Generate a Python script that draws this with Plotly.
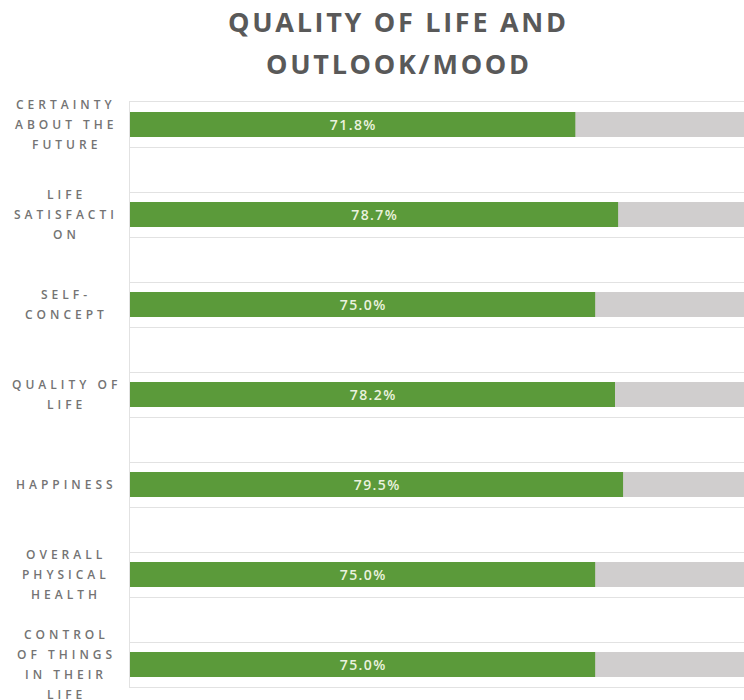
import plotly.graph_objects as go

# data, top to bottom
categories = [
    ["CERTAINTY", "ABOUT THE", "FUTURE"],
    ["LIFE", "SATISFACTI", "ON"],
    ["SELF-", "CONCEPT"],
    ["QUALITY OF", "LIFE"],
    ["HAPPINESS"],
    ["OVERALL", "PHYSICAL", "HEALTH"],
    ["CONTROL", "OF THINGS", "IN THEIR", "LIFE"],
]
values = [71.8, 78.7, 75.0, 78.2, 79.5, 75.0, 75.0]
totals = [100, 100, 100, 100, 100, 100, 100]
title_lines = ["QUALITY OF LIFE AND", "OUTLOOK/MOOD"]

GREEN = "#5B9A3A"
GREY = "#D0CECE"
LINE = "#E2E2E2"
FONT = "Open Sans"


def spaced(s, gap):
    # fake letter-spacing with narrow unicode spaces
    return gap.join(list(s))


pos = list(range(len(values)))

fig = go.Figure()
fig.add_trace(go.Bar(
    y=pos, x=totals, orientation="h", marker=dict(color=GREY, line=dict(width=0)),
    width=0.28, hoverinfo="skip", showlegend=False,
))
fig.add_trace(go.Bar(
    y=pos, x=values, orientation="h", marker=dict(color=GREEN, line=dict(width=0)),
    width=0.28, showlegend=False,
    text=[spaced(f"{v:.1f}%", "\u200a") for v in values],
    textposition="inside", insidetextanchor="middle", textangle=0,
    textfont=dict(family=FONT, size=14, color="#EAF2DE", weight=600),
))

annotations = []
for i, lines in enumerate(categories):
    n = len(lines)
    for j, ln in enumerate(lines):
        annotations.append(dict(
            xref="paper", yref="y", x=-0.107, y=i,
            text=spaced(ln, "\u2004"), showarrow=False,
            xanchor="center", yanchor="middle",
            yshift=-(j - (n - 1) / 2) * 20,
            font=dict(family=FONT, size=12, color="#737373", weight=600),
        ))

for k, t in enumerate(title_lines):
    annotations.append(dict(
        xref="paper", yref="paper", x=0.435, y=1.137 - k * 0.072,
        text=spaced(t, "\u200a"), showarrow=False,
        xanchor="center", yanchor="middle",
        font=dict(family=FONT, size=27, color="#595959", weight="bold"),
    ))

fig.update_layout(
    width=744, height=700,
    margin=dict(l=130, r=0, t=102, b=13),
    barmode="overlay",
    paper_bgcolor="white", plot_bgcolor="white",
    annotations=annotations,
    xaxis=dict(range=[0, 99], showgrid=False, zeroline=False, showticklabels=False,
               showline=True, mirror=True, linecolor=LINE, linewidth=1, ticks=""),
    yaxis=dict(range=[6.25, -0.25], tickvals=pos, showticklabels=False, showgrid=False,
               zeroline=False, showline=True, linecolor=LINE, linewidth=1, ticks="",
               minor=dict(tick0=0.25, dtick=0.5, showgrid=True, gridcolor=LINE, gridwidth=1)),
)

# drop the default page margin so the figure fills the window exactly
fig.write_html("out.html", config={"displayModeBar": False},
               post_script="document.body.style.margin='0';document.body.style.overflow='hidden';")
